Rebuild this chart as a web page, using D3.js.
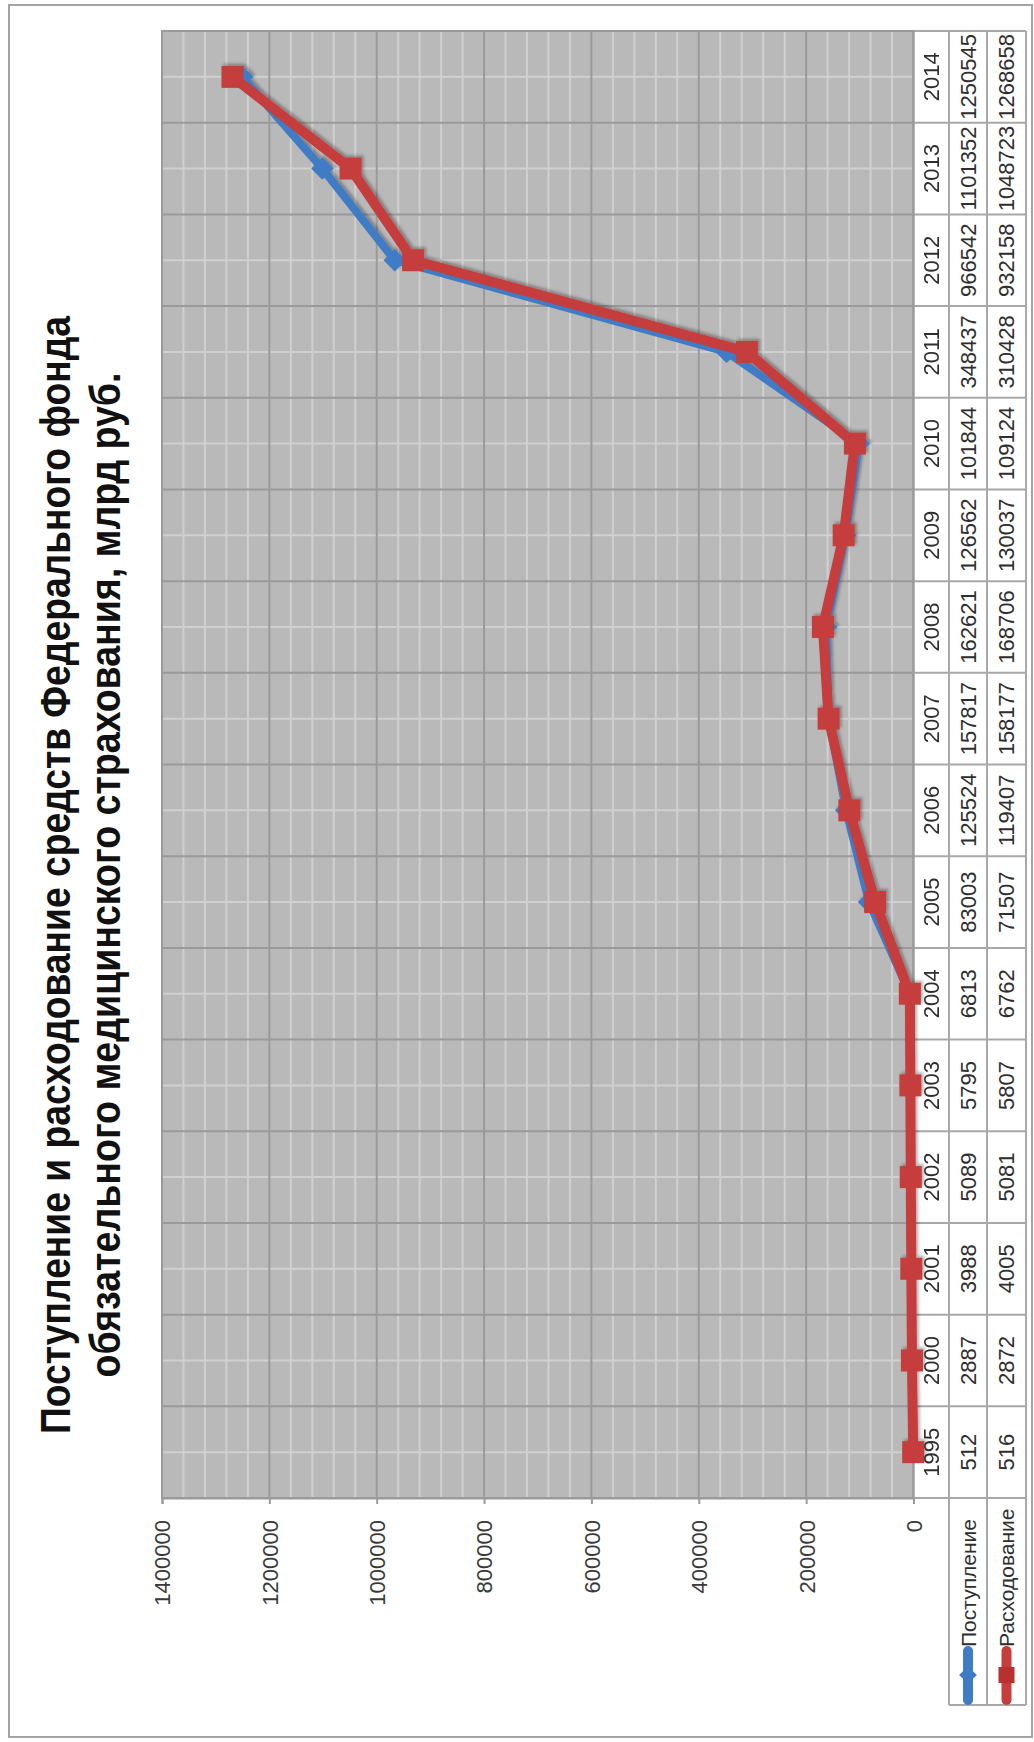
<!DOCTYPE html>
<html>
<head>
<meta charset="utf-8">
<script src="https://cdn.jsdelivr.net/npm/d3@7"></script>
<style>
  html, body { margin: 0; padding: 0; background: #fff; }
  svg { display: block; }
  text { font-family: "Liberation Sans", Arial, sans-serif; }
</style>
</head>
<body>
<script>
// Fund revenue and spending by year
const years = ["1995","2000","2001","2002","2003","2004","2005","2006","2007","2008","2009","2010","2011","2012","2013","2014"];
const income = [512, 2887, 3988, 5089, 5795, 6813, 83003, 125524, 157817, 162621, 126562, 101844, 348437, 966542, 1101352, 1250545];
const expense = [516, 2872, 4005, 5081, 5807, 6762, 71507, 119407, 158177, 168706, 130037, 109124, 310428, 932158, 1048723, 1268658];
const seriesNames = ["Поступление", "Расходование"];
const valueTicks = [0, 200000, 400000, 600000, 800000, 1000000, 1200000, 1400000];
const titleLines = [
  "Поступление и расходование средств Федерального фонда",
  "обязательного медицинского страхования, млрд руб."
];

const W = 1034, H = 1742;
const plot = { left: 162, right: 913.5, top: 31, bottom: 1498 };
const colX = [913.5, 949, 987, 1026];   // table column edges
const legendBottom = 1705;
const blue = "#3f7cc6", red = "#c63d3c";
const gridLight = "#d0d0d0", gridDark = "#9a9a9a", cellLine = "#a8a8a8";

const svg = d3.select("body").append("svg").attr("width", W).attr("height", H);

const defs = svg.append("defs");
const sh = defs.append("filter").attr("id", "shadow")
  .attr("x", "-20%").attr("y", "-20%").attr("width", "140%").attr("height", "140%");
sh.append("feDropShadow").attr("dx", 2).attr("dy", -2).attr("stdDeviation", 1.6)
  .attr("flood-color", "#000").attr("flood-opacity", 0.3);

// outer frame
svg.append("rect").attr("x", 9).attr("y", 5).attr("width", 1023).attr("height", 1732)
  .attr("fill", "#fff").attr("stroke", "#a3a3a3").attr("stroke-width", 2);

// title (rotated, reads bottom to top)
const titleCY = 875;
const titleBase = [70, 120];
const titleLen = [1118, 1005];
titleLines.forEach((t, i) => {
  svg.append("text")
    .attr("transform", `translate(${titleBase[i]},${titleCY}) rotate(-90)`)
    .attr("text-anchor", "middle")
    .attr("textLength", titleLen[i])
    .attr("lengthAdjust", "spacingAndGlyphs")
    .style("font-family", "'Liberation Sans Narrow', 'Arial Narrow', 'Liberation Sans', sans-serif")
    .style("font-weight", "bold")
    .style("font-size", "42px")
    .attr("fill", "#111")
    .text(t);
});

// scales
const x = d3.scaleLinear().domain([0, 1400000]).range([plot.right, plot.left]);
const y = d3.scaleBand().domain(years.slice().reverse()).range([plot.top, plot.bottom]);
const cy = d => y(d) + y.bandwidth() / 2;

// plot background
svg.append("rect").attr("x", plot.left).attr("y", plot.top)
  .attr("width", plot.right - plot.left).attr("height", plot.bottom - plot.top)
  .attr("fill", "#b9b9b9");

const grid = svg.append("g");
// minor value gridlines
const minor = d3.range(0, 1400001, 40000).filter(v => v % 200000 !== 0);
grid.selectAll(".vmin").data(minor).join("line")
  .attr("x1", d => x(d)).attr("x2", d => x(d))
  .attr("y1", plot.top).attr("y2", plot.bottom)
  .attr("stroke", gridLight).attr("stroke-width", 2);
// category centre lines
grid.selectAll(".cmid").data(years).join("line")
  .attr("x1", plot.left).attr("x2", plot.right)
  .attr("y1", d => cy(d)).attr("y2", d => cy(d))
  .attr("stroke", gridLight).attr("stroke-width", 2);
// major value gridlines
grid.selectAll(".vmaj").data(valueTicks).join("line")
  .attr("x1", d => x(d)).attr("x2", d => x(d))
  .attr("y1", plot.top).attr("y2", plot.bottom)
  .attr("stroke", gridDark).attr("stroke-width", 2);
// category boundaries
const bounds = years.map(d => y(d)).concat([plot.bottom]);
grid.selectAll(".cb").data(bounds).join("line")
  .attr("x1", plot.left).attr("x2", plot.right)
  .attr("y1", d => d).attr("y2", d => d)
  .attr("stroke", gridDark).attr("stroke-width", 2);

// data table cells
const table = svg.append("g");
table.append("rect").attr("x", colX[0]).attr("y", plot.top)
  .attr("width", colX[3] - colX[0]).attr("height", plot.bottom - plot.top)
  .attr("fill", "#fff");
table.append("rect").attr("x", colX[1]).attr("y", plot.bottom)
  .attr("width", colX[3] - colX[1]).attr("height", legendBottom - plot.bottom)
  .attr("fill", "#fff");
table.selectAll(".rowl").data(bounds).join("line")
  .attr("x1", colX[0]).attr("x2", colX[3])
  .attr("y1", d => d).attr("y2", d => d)
  .attr("stroke", cellLine).attr("stroke-width", 2);
table.append("line").attr("x1", colX[0]).attr("x2", colX[0])
  .attr("y1", plot.top).attr("y2", plot.bottom).attr("stroke", cellLine).attr("stroke-width", 2);
[colX[1], colX[2], colX[3]].forEach(cx => {
  table.append("line").attr("x1", cx).attr("x2", cx)
    .attr("y1", plot.top).attr("y2", legendBottom)
    .attr("stroke", cellLine).attr("stroke-width", 2);
});
table.append("line").attr("x1", colX[1]).attr("x2", colX[3])
  .attr("y1", legendBottom).attr("y2", legendBottom)
  .attr("stroke", cellLine).attr("stroke-width", 2);

// plot frame
svg.append("rect").attr("x", plot.left).attr("y", plot.top)
  .attr("width", plot.right - plot.left).attr("height", plot.bottom - plot.top)
  .attr("fill", "none").attr("stroke", gridDark).attr("stroke-width", 2);

// value axis
const axis = svg.append("g").attr("transform", `translate(0,${plot.bottom})`)
  .call(d3.axisBottom(x).tickValues(valueTicks).tickSize(6).tickPadding(0).tickFormat(d3.format("d")));
axis.select(".domain").attr("stroke", gridDark).attr("stroke-width", 2);
axis.selectAll(".tick line").attr("stroke", gridDark).attr("stroke-width", 2);
axis.selectAll(".tick text")
  .attr("transform", "translate(0,22) rotate(-90)")
  .attr("text-anchor", "end")
  .attr("x", 0).attr("y", 0).attr("dy", "0.36em")
  .style("font-size", "22px").style("font-family", "'Liberation Sans', Arial, sans-serif")
  .attr("fill", "#3a3a3a");

// series lines and markers
const series = [
  { name: seriesNames[0], values: income, color: blue, width: 8, shape: "diamond" },
  { name: seriesNames[1], values: expense, color: red, width: 10, shape: "square" }
];
const lineGen = d3.line().x(d => x(d.v)).y(d => cy(d.year));
const marks = svg.append("g").attr("filter", "url(#shadow)");
series.forEach(s => {
  const pts = years.map((yr, i) => ({ year: yr, v: s.values[i] }));
  marks.append("path").datum(pts).attr("d", lineGen)
    .attr("fill", "none").attr("stroke", s.color).attr("stroke-width", s.width)
    .attr("stroke-linejoin", "round").attr("stroke-linecap", "round");
  if (s.shape === "diamond") {
    marks.selectAll(null).data(pts).join("path")
      .attr("d", d3.symbol(d3.symbolDiamond2, 320))
      .attr("transform", d => `translate(${x(d.v)},${cy(d.year)})`)
      .attr("fill", s.color);
  } else {
    marks.selectAll(null).data(pts).join("rect")
      .attr("x", d => x(d.v) - 11).attr("y", d => cy(d.year) - 11)
      .attr("width", 22).attr("height", 22)
      .attr("fill", s.color);
  }
});

// table text
const tableCols = [
  { cx: (colX[0] + colX[1]) / 2, vals: years },
  { cx: (colX[1] + colX[2]) / 2, vals: income },
  { cx: (colX[2] + colX[3]) / 2, vals: expense }
];
const ttext = svg.append("g");
tableCols.forEach(col => {
  ttext.selectAll(null).data(years).join("text")
    .attr("transform", (d) => `translate(${col.cx},${cy(d)}) rotate(-90)`)
    .attr("text-anchor", "middle").attr("dy", "0.36em")
    .style("font-size", "22px").attr("fill", "#2e2e2e")
    .text((d, i) => col.vals[i]);
});

// legend inside the table
series.forEach((s, i) => {
  const cx = (colX[i + 1] + colX[i + 2]) / 2;
  const g = svg.append("g");
  g.append("line").attr("x1", cx).attr("x2", cx).attr("y1", 1700).attr("y2", 1651)
    .attr("stroke", s.color).attr("stroke-width", 10).attr("stroke-linecap", "round");
  if (s.shape === "diamond") {
    g.append("path").attr("d", d3.symbol(d3.symbolDiamond2, 200))
      .attr("transform", `translate(${cx},1675)`).attr("fill", s.color);
  } else {
    g.append("rect").attr("x", cx - 8).attr("y", 1667).attr("width", 16).attr("height", 16)
      .attr("fill", "#b8302f");
  }
  g.append("text")
    .attr("transform", `translate(${cx},1647) rotate(-90)`)
    .attr("text-anchor", "start").attr("dy", "0.36em")
    .style("font-size", "21px").attr("fill", "#2e2e2e")
    .text(s.name);
});
</script>
</body>
</html>
